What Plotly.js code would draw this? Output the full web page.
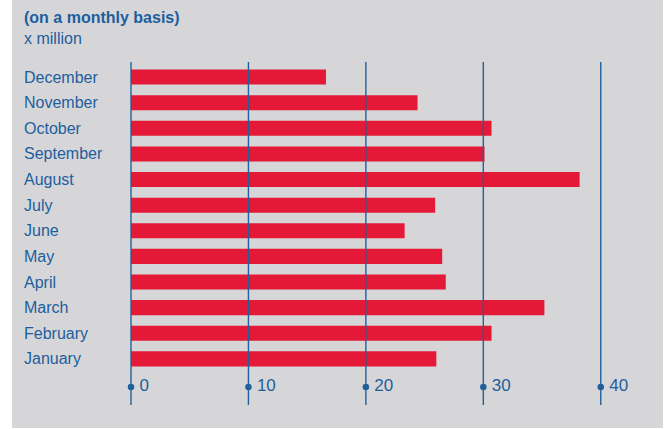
<!DOCTYPE html>
<html><head><meta charset="utf-8">
<script src="https://cdn.plot.ly/plotly-3.0.1.min.js"></script>
<style>
html,body{margin:0;padding:0;background:#fff;}
#panel{position:absolute;left:12px;top:0;width:651px;height:428px;background:#d6d6d8;}
#chart{position:absolute;left:0;top:0;width:651px;height:428px;}
</style></head>
<body><div id="panel"><div id="chart"></div></div>
<script>
const months = ['January','February','March','April','May','June','July','August','September','October','November','December'];
const values = [26.0, 30.7, 35.2, 26.8, 26.5, 23.3, 25.9, 38.2, 30.1, 30.7, 24.4, 16.6];
const tickValues = [0, 10, 20, 30, 40];
const tickLabels = ['0', '10', '20', '30', '40'];
const subtitle = '(on a monthly basis)';
const unitLabel = 'x million';

const blue = '#1d5e9e';
const lineBlue = '#22609c';
const font = 'Liberation Sans, Arial, Helvetica, sans-serif';

const traces = [
  {type:'bar', orientation:'h', y: months, x: values, marker:{color:'#e31937'}, hoverinfo:'none'},
  {type:'scatter', mode:'markers+text', x: tickValues, y: tickValues.map(()=>0.0525), yaxis:'y2',
   text: tickLabels.map(t=>'\u2009'+t), textposition:'middle right',
   textfont:{family:font, size:17, color:blue},
   marker:{color:lineBlue, size:6.5}, cliponaxis:false, hoverinfo:'none'}
];

const shapes = tickValues.map(v => ({
  type:'line', xref:'x', yref:'paper', x0:v, x1:v, y0:0, y1:1, layer:'above',
  line:{color:lineBlue, width:1.4}
}));

const lx = -107/534;
const annotations = months.map(m => ({
  xref:'paper', yref:'y', x: lx, y: m, xanchor:'left', yanchor:'middle',
  text: m, showarrow:false, font:{family:font, size:16, color:blue}
}));
annotations.push({xref:'paper', yref:'paper', x:lx, y:1+45/343, xanchor:'left', yanchor:'middle',
  text:'<b>'+subtitle+'</b>', showarrow:false, font:{family:font, size:16, color:blue}});
annotations.push({xref:'paper', yref:'paper', x:lx, y:1+23/343, xanchor:'left', yanchor:'middle',
  text: unitLabel, showarrow:false, font:{family:font, size:16, color:blue}});

const layout = {
  width:651, height:428,
  paper_bgcolor:'rgba(0,0,0,0)', plot_bgcolor:'rgba(0,0,0,0)',
  margin:{l:117, r:0, t:62, b:23},
  showlegend:false,
  bargap:0.414,
  xaxis:{range:[-0.17,45.3], showticklabels:false, showgrid:false, zeroline:false,
         showline:false, ticks:'', fixedrange:true},
  yaxis:{type:'category', categoryarray:months, range:[-1.8, 11.586], showticklabels:false,
         showgrid:false, zeroline:false, ticks:'', fixedrange:true},
  yaxis2:{overlaying:'y', range:[0,1], visible:false, fixedrange:true},
  shapes: shapes,
  annotations: annotations
};
Plotly.newPlot('chart', traces, layout, {displayModeBar:false, staticPlot:true});
</script></body></html>
